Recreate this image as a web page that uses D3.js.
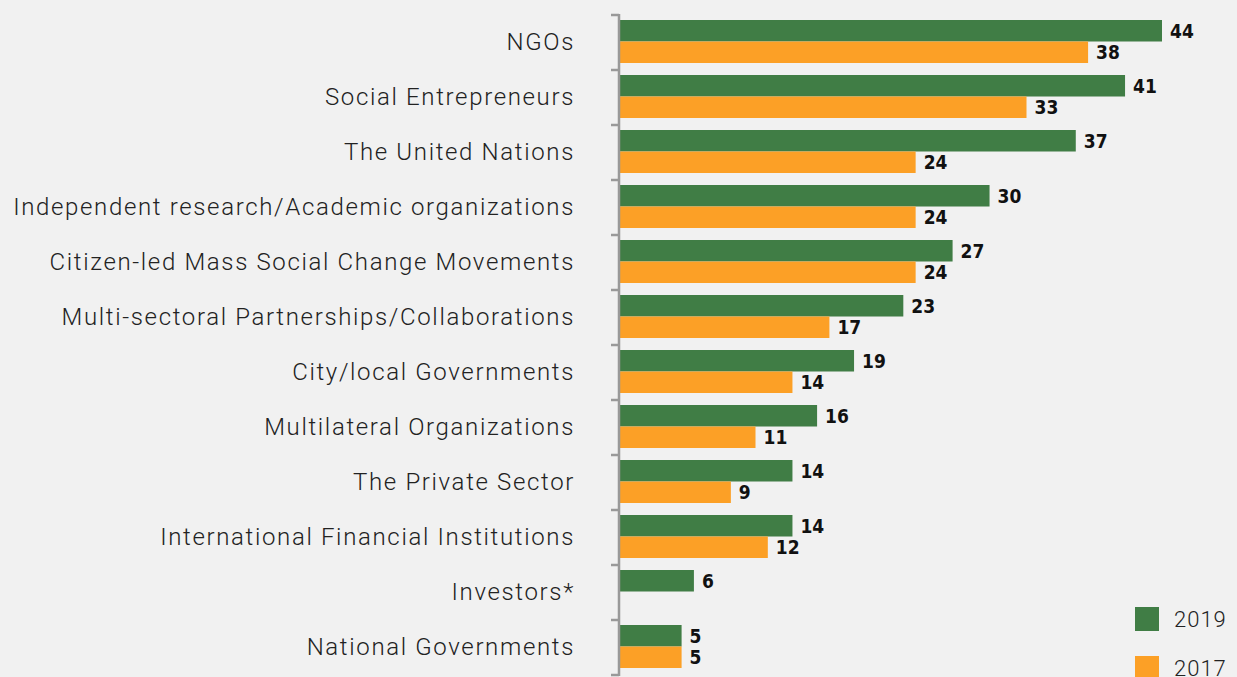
<!DOCTYPE html>
<html lang="en">
<head>
<meta charset="utf-8">
<title>Bar chart 2019 vs 2017</title>
<script src="https://d3js.org/d3.v7.min.js"></script>
<style>
  body { margin: 0; background: #f1f1f1; }
  svg { display: block; }
</style>
</head>
<body>
<script>
// data
var categories = ["NGOs", "Social Entrepreneurs", "The United Nations",
  "Independent research/Academic organizations", "Citizen-led Mass Social Change Movements",
  "Multi-sectoral Partnerships/Collaborations", "City/local Governments",
  "Multilateral Organizations", "The Private Sector", "International Financial Institutions",
  "Investors*", "National Governments"];
var values2019 = [44, 41, 37, 30, 27, 23, 19, 16, 14, 14, 6, 5];
var values2017 = [38, 33, 24, 24, 24, 17, 14, 11, 9, 12, null, 5];
var seriesNames = ["2019", "2017"];
var seriesColors = ["#407d45", "#fca026"];

var w = 1237, h = 677;

var svg = d3.select("body").append("svg")
  .attr("width", w)
  .attr("height", h);

// scales
var x = d3.scaleLinear().domain([0, 44]).range([620, 1162]);
var y = d3.scaleBand().domain(categories).range([15, 675]);
var yInner = d3.scaleBand().domain(seriesNames).range([5, y.bandwidth() - 7]);

var rows = categories.map(function(c, i) {
  return { cat: c, vals: [values2019[i], values2017[i]] };
});

// bars
var groups = svg.selectAll("g.row")
  .data(rows)
  .enter().append("g")
  .attr("class", "row")
  .attr("transform", function(d) { return "translate(0," + y(d.cat) + ")"; });

groups.selectAll("rect")
  .data(function(d) {
    return d.vals.map(function(v, j) { return { s: seriesNames[j], v: v, j: j }; })
      .filter(function(e) { return e.v != null; });
  })
  .enter().append("rect")
  .attr("x", x(0))
  .attr("y", function(d) { return yInner(d.s); })
  .attr("width", function(d) { return x(d.v) - x(0); })
  .attr("height", yInner.bandwidth())
  .attr("fill", function(d) { return seriesColors[d.j]; });

groups.selectAll("text.val")
  .data(function(d) {
    return d.vals.map(function(v, j) { return { s: seriesNames[j], v: v }; })
      .filter(function(e) { return e.v != null; });
  })
  .enter().append("text")
  .attr("class", "val")
  .attr("x", function(d) { return x(d.v) + 8; })
  .attr("y", function(d) { return yInner(d.s) + yInner.bandwidth() / 2; })
  .attr("dy", "0.36em")
  .attr("font-family", "'DejaVu Sans Condensed', 'Liberation Sans Narrow', sans-serif")
  .attr("font-weight", "bold")
  .attr("font-size", 19)
  .attr("fill", "#111")
  .text(function(d) { return d.v; });

// category labels
svg.selectAll("text.cat")
  .data(categories)
  .enter().append("text")
  .attr("class", "cat")
  .attr("x", 575)
  .attr("y", function(d) { return y(d) + y.bandwidth() / 2; })
  .attr("dy", "0.33em")
  .attr("text-anchor", "end")
  .attr("font-family", "Roboto, sans-serif")
  .attr("font-weight", 300)
  .attr("font-size", 24)
  .attr("letter-spacing", "1.65px")
  .attr("fill", "#222")
  .text(function(d) { return d; });

// axis line with ticks between categories
var tickPos = categories.map(function(c) { return y(c); }).concat([y.range()[1]]);
svg.append("line")
  .attr("x1", x(0) - 1).attr("x2", x(0) - 1)
  .attr("y1", y.range()[0] - 1).attr("y2", y.range()[1] + 1)
  .attr("stroke", "#999").attr("stroke-width", 2.5);
svg.selectAll("line.tick")
  .data(tickPos)
  .enter().append("line")
  .attr("class", "tick")
  .attr("x1", x(0) - 9).attr("x2", x(0) - 1)
  .attr("y1", function(d) { return d; }).attr("y2", function(d) { return d; })
  .attr("stroke", "#999").attr("stroke-width", 2.5);

// legend
var legend = svg.selectAll("g.legend")
  .data(seriesNames)
  .enter().append("g")
  .attr("class", "legend")
  .attr("transform", function(d, i) { return "translate(1135," + (607 + i * 49) + ")"; });
legend.append("rect")
  .attr("width", 24).attr("height", 24)
  .attr("fill", function(d, i) { return seriesColors[i]; });
legend.append("text")
  .attr("x", 39).attr("y", 12).attr("dy", "0.36em")
  .attr("font-family", "Roboto, sans-serif")
  .attr("font-weight", 300)
  .attr("font-size", 22)
  .attr("letter-spacing", "1px")
  .attr("fill", "#222")
  .text(function(d) { return d; });
</script>
</body>
</html>
